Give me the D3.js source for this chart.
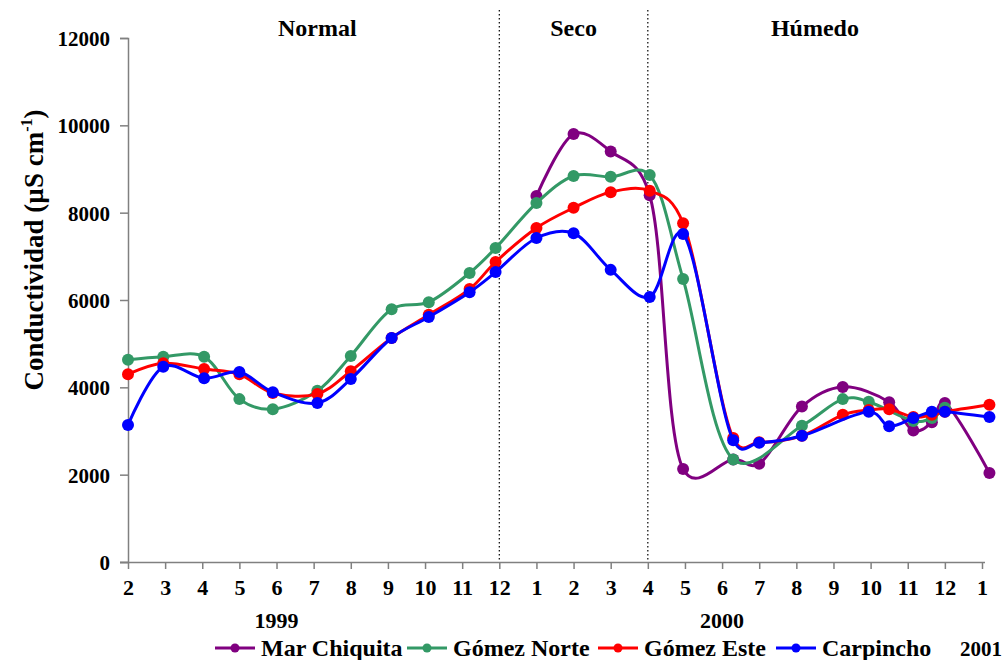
<!DOCTYPE html>
<html>
<head>
<meta charset="utf-8">
<script src="https://cdn.jsdelivr.net/npm/d3@7"></script>
<style>
  html, body { margin: 0; padding: 0; background: #fff; }
  svg text { font-family: "Liberation Serif", "Times New Roman", serif; font-weight: bold; fill: #000; }
</style>
</head>
<body>
<svg id="chart" width="1005" height="660"></svg>
<script>
// Month tick labels, Feb 1999 .. Jan 2001
const monthLabels = ["2","3","4","5","6","7","8","9","10","11","12",
                     "1","2","3","4","5","6","7","8","9","10","11","12","1"];
const yearLabels = [
  { label: "1999", month: 4,  row: 1 },
  { label: "2000", month: 16, row: 1 },
  { label: "2001", month: 23, row: 2 }
];
const periodLabels = [
  { label: "Normal", month: 5.1 },
  { label: "Seco",   month: 12 },
  { label: "Húmedo", month: 18.5 }
];
// Boundaries between periods (month index)
const periodBreaks = [10, 14];

// Sampling dates in months since February 1999
const sampleMonths = [0, 0.95, 2.05, 3.0, 3.9, 5.1, 6.0, 7.1, 8.1, 9.2, 9.9, 11, 12, 13,
                      14.05, 14.95, 16.3, 17, 18.15, 19.25, 19.95, 20.5, 21.15, 21.65, 22, 23.2];

// Conductivity (µS cm-1) per site; null = not sampled
const marChiquita = [null, null, null, null, null, null, null, null, null, null, null,
                     8380, 9800, 9400, 8400, 2130, 2350, 2250, 3560, 4010, null, 3660, 3010, 3200, 3640, 2040];
const gomezNorte  = [4630, 4700, 4700, 3730, 3500, 3920, 4720, 5790, 5950, 6620, 7190,
                     8220, 8840, 8820, 8860, 6480, 2350, null, 3120, 3730, 3670, null, 3230, 3300, 3530, null];
const gomezEste   = [4300, 4550, 4420, 4300, 3870, 3850, 4370, 5130, 5660, 6250, 6870,
                     7650, 8110, 8470, 8500, 7760, 2840, 2740, 2890, 3370, 3480, 3500, 3320, 3370, 3440, 3600];
const carpincho   = [3140, 4470, 4210, 4350, 3890, 3640, 4190, 5130, 5610, 6180, 6640,
                     7420, 7530, 6690, 6070, 7510, 2790, 2730, 2890, null, 3440, 3110, 3300, 3440, 3440, 3320];

const seriesNames  = ["Mar Chiquita", "Gómez Norte", "Gómez Este", "Carpincho"];
const seriesValues = [marChiquita, gomezNorte, gomezEste, carpincho];
const seriesColors = ["#800080", "#339966", "#ff0000", "#0000ff"];

const yTicks = [0, 2000, 4000, 6000, 8000, 10000, 12000];

const svg = d3.select("#chart");
const x = d3.scaleLinear().domain([0, 23]).range([128, 982]);
const y = d3.scaleLinear().domain([0, 12000]).range([562, 38]);
const axisColor = "#808080";

// Period separators
svg.append("g").selectAll("line").data(periodBreaks).join("line")
  .attr("x1", d => x(d)).attr("x2", d => x(d))
  .attr("y1", 10).attr("y2", y(0))
  .attr("stroke", "#000").attr("stroke-width", 1.2)
  .attr("stroke-dasharray", "1.5,2.5");

// Period headings
svg.append("g").selectAll("text").data(periodLabels).join("text")
  .attr("x", d => x(d.month)).attr("y", 36)
  .attr("text-anchor", "middle").attr("font-size", 24)
  .text(d => d.label);

// Y axis
const yAxis = svg.append("g").attr("transform", `translate(${x(0)},0)`)
  .call(d3.axisLeft(y).tickValues(yTicks).tickSize(8).tickPadding(10).tickFormat(d3.format("d")));
yAxis.select(".domain").attr("stroke", axisColor).attr("stroke-width", 1.5);
yAxis.selectAll(".tick line").attr("stroke", axisColor).attr("stroke-width", 1.5);
yAxis.selectAll(".tick text").attr("font-size", 21).attr("font-family", null).attr("dy", "0.35em");

// X axis
const xAxis = svg.append("g").attr("transform", `translate(0,${y(0)})`)
  .call(d3.axisBottom(x).tickValues(d3.range(monthLabels.length))
    .tickSize(7).tickPadding(10).tickFormat(i => monthLabels[i]));
xAxis.select(".domain").attr("stroke", axisColor).attr("stroke-width", 1.5)
  .attr("d", `M${x(0) - 8},0.5H${x(23) + 3}`);
xAxis.selectAll(".tick line").attr("stroke", axisColor).attr("stroke-width", 1.5);
xAxis.selectAll(".tick text").attr("font-size", 22).attr("font-family", null).attr("dy", "0.71em");

// Year labels
svg.append("g").selectAll("text").data(yearLabels).join("text")
  .attr("x", d => d.row === 1 ? x(d.month) : x(d.month) - 1)
  .attr("y", d => d.row === 1 ? 628 : 656)
  .attr("text-anchor", "middle").attr("font-size", d => d.row === 1 ? 22 : 21)
  .text(d => d.label);

// Y axis title
svg.append("text")
  .attr("transform", "translate(43,250) rotate(-90)")
  .attr("text-anchor", "middle").attr("font-size", 27)
  .text("Conductividad (µS cm")
  .call(t => {
    t.append("tspan").attr("font-size", 16).attr("dy", -11).text("-1");
    t.append("tspan").attr("dy", 11).text(")");
  });

// Series lines and markers
const line = d3.line()
  .x(d => x(d.month)).y(d => y(d.value))
  .curve(d3.curveCatmullRom.alpha(0.2));

seriesValues.forEach((vals, i) => {
  const pts = sampleMonths.map((m, k) => ({ month: m, value: vals[k] }))
    .filter(d => d.value !== null);
  const g = svg.append("g");
  g.append("path").datum(pts)
    .attr("d", line).attr("fill", "none")
    .attr("stroke", seriesColors[i]).attr("stroke-width", 3)
    .attr("stroke-linejoin", "round");
  g.selectAll("circle").data(pts).join("circle")
    .attr("cx", d => x(d.month)).attr("cy", d => y(d.value))
    .attr("r", 6).attr("fill", seriesColors[i]);
});

// Legend
const legendX = [215, 407, 598, 776];
const legend = svg.append("g");
seriesNames.forEach((name, i) => {
  const lx = legendX[i], ly = 648;
  legend.append("line").attr("x1", lx).attr("x2", lx + 40).attr("y1", ly).attr("y2", ly)
    .attr("stroke", seriesColors[i]).attr("stroke-width", 3);
  legend.append("circle").attr("cx", lx + 20).attr("cy", ly).attr("r", 4.5).attr("fill", seriesColors[i]);
  legend.append("text").attr("x", lx + 46).attr("y", ly + 8).attr("font-size", 24).text(name);
});
</script>
</body>
</html>
